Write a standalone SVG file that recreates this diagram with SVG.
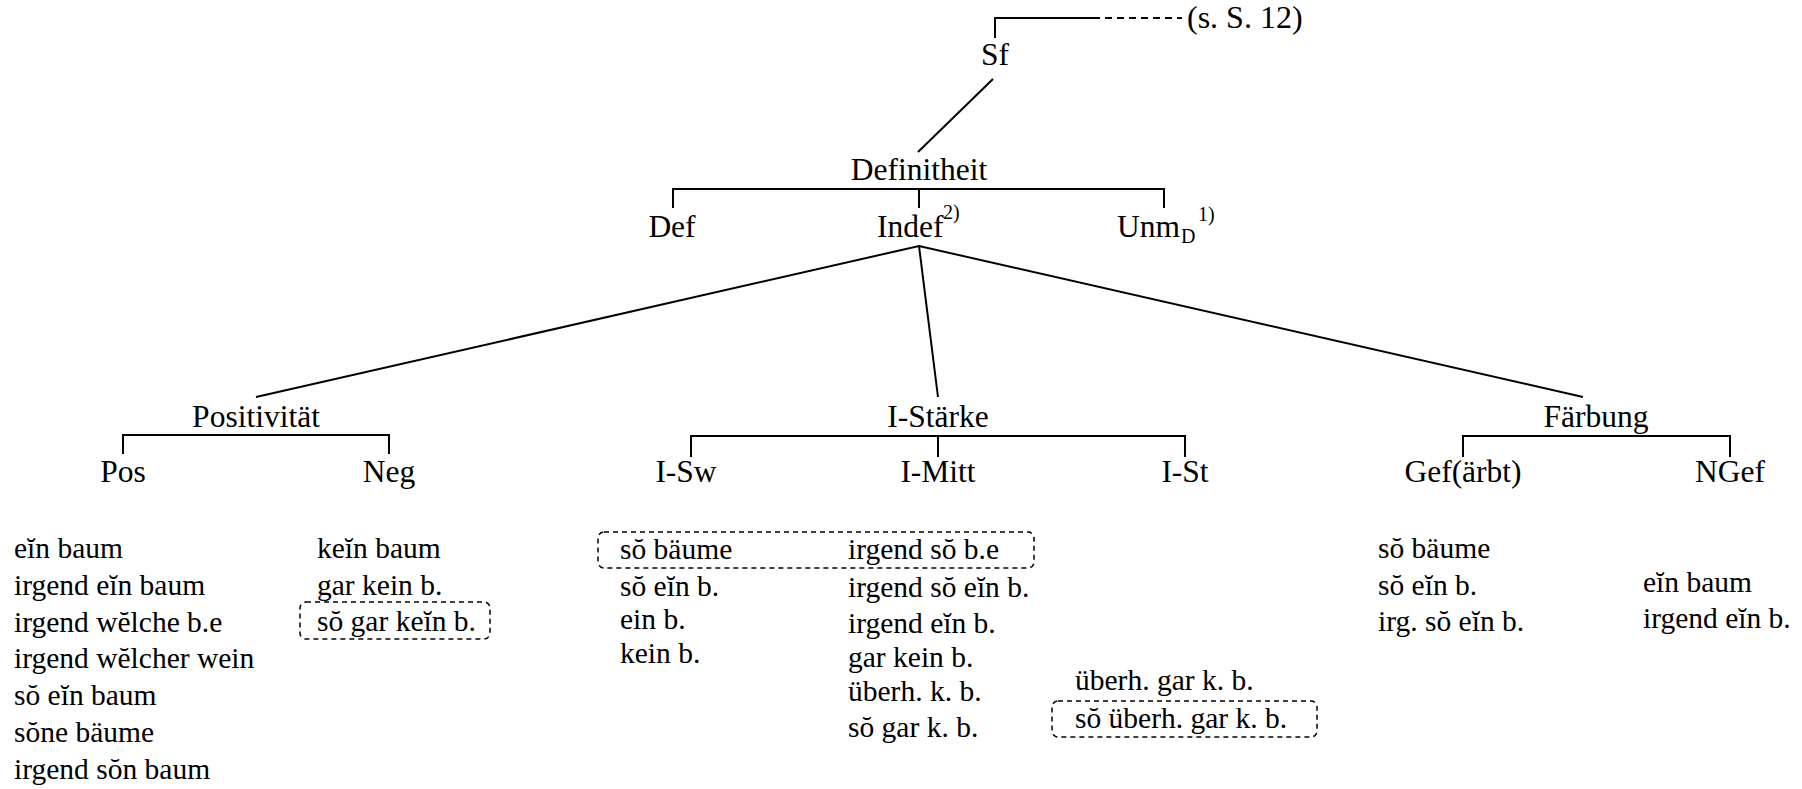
<svg xmlns="http://www.w3.org/2000/svg" width="1802" height="789" viewBox="0 0 1802 789">
<style>
text{font-family:"Liberation Serif","Times New Roman",serif;font-size:31.5px;fill:#000}
.m{text-anchor:middle}
.s{font-size:20px}
.l{font-size:29.5px}
.ln{stroke:#000;stroke-width:2;fill:none}
.box{stroke:#000;stroke-width:1.5;stroke-dasharray:5 4;fill:none}
</style>
<rect width="1802" height="789" fill="#fff"/>
<g id="connectors">
<path class="ln" d="M995,38V18H1093"/>
<path class="ln" d="M1093,18H1182" stroke-dasharray="7 5"/>
<path class="ln" d="M993,79L918,152"/>
<path class="ln" d="M673,208V189H1164V208M919,189V208"/>
<path class="ln" d="M256,397L919,246L1583,397M919,246L938,397"/>
<path class="ln" d="M123,454V435H389V454"/>
<path class="ln" d="M691,457V436H1185V457M938,436V457"/>
<path class="ln" d="M1463,457V436H1730V457"/>
</g>
<g id="n-sf"><text class="m" x="995" y="65">Sf</text><text x="1187" y="28" style="font-size:32px">(s. S. 12)</text></g>
<g id="n-definitheit"><text class="m" x="919" y="180">Definitheit</text></g>
<g id="n-def"><text class="m" x="672" y="237">Def</text></g>
<g id="n-indef"><text x="877" y="237">Indef</text><text class="s" x="943" y="219">2)</text></g>
<g id="n-unm"><text x="1117" y="237">Unm</text><text class="s" x="1181" y="243">D</text><text class="s" x="1198" y="221">1)</text></g>
<g id="n-positivitaet"><text class="m" x="256" y="427">Positivität</text></g>
<g id="n-istaerke"><text class="m" x="938" y="427">I-Stärke</text></g>
<g id="n-faerbung"><text class="m" x="1596" y="427">Färbung</text></g>
<g id="n-pos"><text class="m" x="123" y="482">Pos</text>
<text class="l" x="14" y="558">eĭn baum</text>
<text class="l" x="14" y="595">irgend eĭn baum</text>
<text class="l" x="14" y="632">irgend wĕlche b.e</text>
<text class="l" x="14" y="668">irgend wĕlcher wein</text>
<text class="l" x="14" y="705">sŏ eĭn baum</text>
<text class="l" x="14" y="742">sŏne bäume</text>
<text class="l" x="14" y="779">irgend sŏn baum</text>
</g>
<g id="n-neg"><text class="m" x="389" y="482">Neg</text>
<text class="l" x="317" y="558">keĭn baum</text>
<text class="l" x="317" y="595">gar kein b.</text>
<rect class="box" x="300" y="602" width="190" height="37" rx="6"/>
<text class="l" x="317" y="631">sŏ gar keĭn b.</text>
</g>
<g id="n-isw"><text class="m" x="686" y="482">I-Sw</text>
<rect class="box" x="598" y="532" width="436" height="36" rx="6"/>
<text class="l" x="620" y="559">sŏ bäume</text>
<text class="l" x="620" y="596">sŏ eĭn b.</text>
<text class="l" x="620" y="629">ein b.</text>
<text class="l" x="620" y="663">kein b.</text>
</g>
<g id="n-imitt"><text class="m" x="938" y="482">I-Mitt</text>
<text class="l" x="848" y="559">irgend sŏ b.e</text>
<text class="l" x="848" y="597">irgend sŏ eĭn b.</text>
<text class="l" x="848" y="633">irgend eĭn b.</text>
<text class="l" x="848" y="667">gar kein b.</text>
<text class="l" x="848" y="701">überh. k. b.</text>
<text class="l" x="848" y="737">sŏ gar k. b.</text>
</g>
<g id="n-ist"><text class="m" x="1185" y="482">I-St</text>
<text class="l" x="1075" y="690">überh. gar k. b.</text>
<rect class="box" x="1052" y="701" width="265" height="36" rx="6"/>
<text class="l" x="1075" y="728">sŏ überh. gar k. b.</text>
</g>
<g id="n-gef"><text class="m" x="1463" y="482">Gef(ärbt)</text>
<text class="l" x="1378" y="558">sŏ bäume</text>
<text class="l" x="1378" y="595">sŏ eĭn b.</text>
<text class="l" x="1378" y="631">irg. sŏ eĭn b.</text>
</g>
<g id="n-ngef"><text class="m" x="1730" y="482">NGef</text>
<text class="l" x="1643" y="592">eĭn baum</text>
<text class="l" x="1643" y="628">irgend eĭn b.</text>
</g>
</svg>
